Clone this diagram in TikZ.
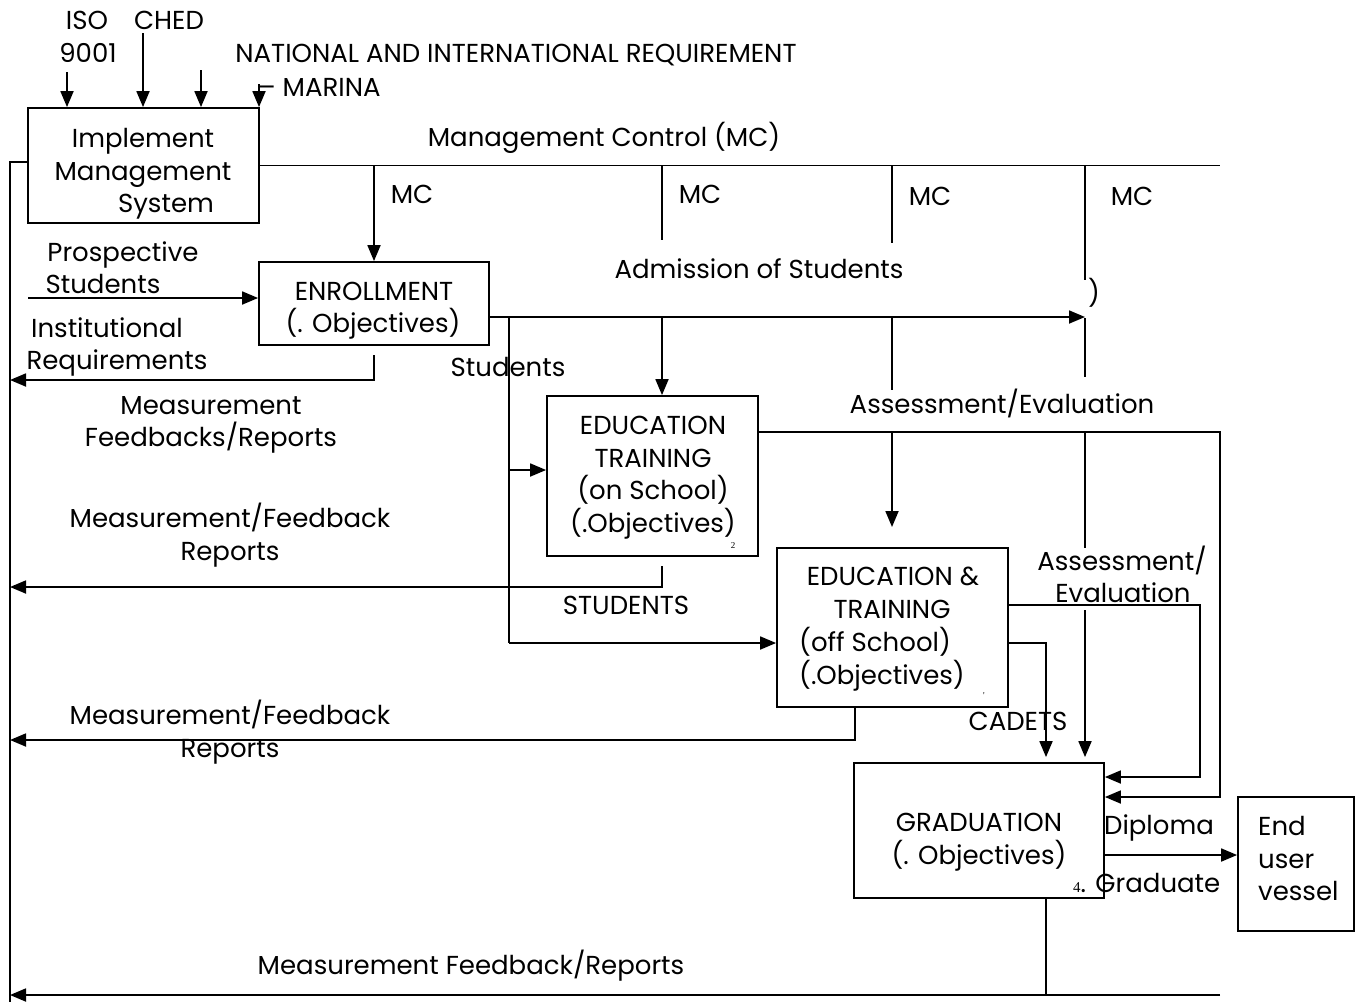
\documentclass[tikz,border=0pt]{standalone}
\usepackage{fontspec}
\setmainfont{Poppins}
\newfontfamily\smallserif{Liberation Serif}
\usetikzlibrary{arrows.meta,calc}
\tikzset{
  box/.style={draw,line width=1.8pt,inner sep=0pt},
  wire/.style={line width=1.8pt},
  arr/.style={line width=1.8pt,-{Triangle[length=16pt,width=13pt]}},
  lbl/.style={anchor=base,inner sep=0pt},
}
\begin{document}
\begin{tikzpicture}[x=1pt,y=-1pt,font=\fontsize{26}{32.5}\selectfont]
\useasboundingbox (0,0) rectangle (1360,1002);
% boxes
\node[box,minimum width=231pt,minimum height=115pt] (ims) at (143.5,165.5) {};
\node[box,minimum width=230pt,minimum height=83pt] (enr) at (374,303.5) {};
\node[box,minimum width=211pt,minimum height=160pt] (eon) at (652.5,476) {};
\node[box,minimum width=231pt,minimum height=159pt] (eoff) at (892.5,627.5) {};
\node[box,minimum width=250pt,minimum height=135pt] (grad) at (979,830.5) {};
\node[box,minimum width=116pt,minimum height=134pt] (end) at (1296,864) {};
% box texts
\node[lbl] (imsa) at (143,147) {Implement};
\node[lbl] (imsb) at (143,180) {Management};
\node[lbl] (imsc) at (166,212) {System};
\node[lbl] (enra) at (374,300) {ENROLLMENT};
\node[lbl] (enrb) at (373,332) {(. Objectives)};
\node[lbl] (eona) at (653,434) {EDUCATION};
\node[lbl] (eonb) at (653,467) {TRAINING};
\node[lbl] (eonc) at (653,499) {(on School)};
\node[lbl] (eond) at (653,532) {(.Objectives)};
\node[lbl] (eoffa) at (893,585) {EDUCATION \&};
\node[lbl] (eoffb) at (892,618) {TRAINING};
\node[lbl,anchor=base west] (eoffc) at (799,651) {(off School)};
\node[lbl,anchor=base west] (eoffd) at (799,684) {(.Objectives)};
\node[lbl] (grada) at (979,831) {GRADUATION};
\node[lbl] (gradb) at (979,864) {(. Objectives)};
\node[lbl,anchor=base west] (enda) at (1258,835) {End};
\node[lbl,anchor=base west] (endb) at (1258,868) {user};
\node[lbl,anchor=base west] (endc) at (1258,900) {vessel};
\node[lbl,font=\smallserif\fontsize{9}{9}\selectfont] (m2) at (733,548) {2};
\node[lbl,font=\smallserif\fontsize{9}{9}\selectfont] (m3) at (984,698) {'};
% coordinates
\coordinate (t1) at (67,72);
\coordinate (t2) at (143,33);
\coordinate (t3) at (201,70);
\coordinate (t4) at (259,84);
\coordinate (busTop) at (10,162);
\coordinate (busBot) at (10,1002);
\coordinate (mcEnd) at (1220,165.5);
\coordinate (d2) at (662,240);
\coordinate (d3) at (892,243);
\coordinate (d4) at (1085,280);
\coordinate (adm) at (1085,317);
\coordinate (s1) at (509,317);
\coordinate (s2) at (509,470);
\coordinate (s3) at (509,643);
\coordinate (a1) at (662,317);
\coordinate (a2) at (892,317);
\coordinate (a2e) at (892,390);
\coordinate (a3) at (1085,318);
\coordinate (a3e) at (1085,377);
\coordinate (r1) at (1220,432);
\coordinate (r1b) at (1220,797);
\coordinate (b1) at (892,432);
\coordinate (b1e) at (892,527);
\coordinate (b2) at (1085,432);
\coordinate (b2e) at (1085,548);
\coordinate (r2) at (1200,605);
\coordinate (r2b) at (1200,777);
\coordinate (c1) at (1046,643);
\coordinate (c2) at (1085,610);
\coordinate (f1) at (374,355);
\coordinate (f1b) at (374,380);
\coordinate (f1e) at (10,380);
\coordinate (f2) at (662,566);
\coordinate (f2b) at (662,587);
\coordinate (f2e) at (10,587);
\coordinate (f3b) at (855,740);
\coordinate (f3e) at (10,740);
\coordinate (g1) at (1046,995);
\coordinate (g2) at (1220,995);
\coordinate (g2e) at (10,995);
\coordinate (dip) at (1220,855);
\coordinate (pin) at (28,298);
% top inputs
\draw[arr] (t1) -- (t1 |- ims.north);
\draw[arr] (t2) -- (t2 |- ims.north);
\draw[arr] (t3) -- (t3 |- ims.north);
\draw[arr] (t4) -- (t4 |- ims.north);
% left bus
\draw[wire] ([yshift=3.5pt]ims.west) -- (busTop) -- (busBot);
% management control
\draw[wire] (ims.east) -- (mcEnd);
\draw[arr] (enr.north |- ims.east) -- (enr.north);
\draw[wire] (d2 |- ims.east) -- (d2);
\draw[wire] (d3 |- ims.east) -- (d3);
\draw[wire] (d4 |- ims.east) -- (d4);
% admission
\draw[arr] (pin) -- (pin -| enr.west);
\draw[arr] (enr.east |- adm) -- (adm);
\draw[wire] (s1) -- (s3);
\draw[arr] (s2) -- (s2 -| eon.west);
\draw[arr] (s3) -- (s3 -| eoff.west);
\draw[arr] (a1) -- (a1 |- eon.north);
\draw[wire] (a2) -- (a2e);
\draw[wire] (a3) -- (a3e);
% assessment from education on school
\draw[arr] (eon.east |- r1) -- (r1) -- (r1b) -- (r1b -| grad.east);
\draw[arr] (b1) -- (b1e);
\draw[wire] (b2) -- (b2e);
% education off school to graduation
\draw[arr] (eoff.east |- r2) -- (r2) -- (r2b) -- (r2b -| grad.east);
\draw[arr,shorten >=5pt] (eoff.east |- c1) -- (c1) -- (c1 |- grad.north);
\draw[arr,shorten >=5pt] (c2) -- (c2 |- grad.north);
% feedbacks
\draw[arr] (f1) -- (f1b) -- (f1e);
\draw[arr] (f2) -- (f2b) -- (f2e);
\draw[arr] (f3b |- eoff.south) -- (f3b) -- (f3e);
\draw[wire] (g1 |- grad.south) -- (g1);
\draw[arr] (g2) -- (g2e);
\draw[arr] (grad.east |- dip) -- (dip -| end.west);
% labels
\node[lbl] (l1) at (87,29) {ISO};
\node[lbl] (l2) at (169,29) {CHED};
\node[lbl] (l3) at (88,62) {9001};
\node[lbl] (l4) at (516,62) {NATIONAL AND INTERNATIONAL REQUIREMENT};
\node[lbl,anchor=base west] (l5) at (258,96) {– MARINA};
\node[lbl] (l6) at (604,146) {Management Control (MC)};
\node[lbl] (mc1) at (412,203) {MC};
\node[lbl] (mc2) at (700,203) {MC};
\node[lbl] (mc3) at (930,205) {MC};
\node[lbl] (mc4) at (1132,205) {MC};
\node[lbl] (l7) at (759,278) {Admission of Students};
\node[lbl] (l8) at (1094,302) {)};
\node[lbl] (l9) at (123,261) {Prospective};
\node[lbl] (l10) at (103,293) {Students};
\node[lbl] (l11) at (107,337) {Institutional};
\node[lbl] (l12) at (117,369) {Requirements};
\node[lbl] (l13) at (211,414) {Measurement};
\node[lbl] (l14) at (211,446) {Feedbacks/Reports};
\node[lbl] (l15) at (508,376) {Students};
\node[lbl] (l16) at (1002,413) {Assessment/Evaluation};
\node[lbl] (l17) at (230,527) {Measurement/Feedback};
\node[lbl] (l18) at (230,560) {Reports};
\node[lbl] (l19) at (626,614) {STUDENTS};
\node[lbl] (l20) at (1122,570) {Assessment/};
\node[lbl] (l21) at (1123,602) {Evaluation};
\node[lbl] (l22) at (1018,730) {CADETS};
\node[lbl] (l23) at (230,724) {Measurement/Feedback};
\node[lbl] (l24) at (230,757) {Reports};
\node[lbl] (l25) at (1159,834) {Diploma};
\node[lbl,anchor=base west] (l26) at (1073,892) {{\smallserif\fontsize{15}{15}\selectfont 4}. Graduate};
\node[lbl] (l27) at (471,974) {Measurement Feedback/Reports};
\end{tikzpicture}
\end{document}
